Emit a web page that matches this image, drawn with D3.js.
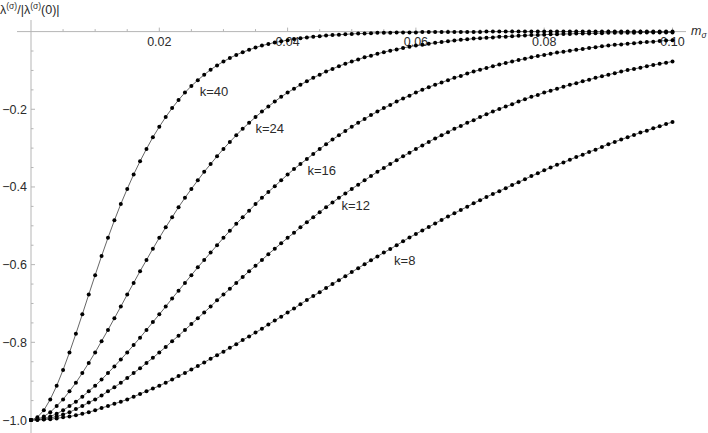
<!DOCTYPE html>
<html>
<head>
<meta charset="utf-8">
<script src="https://cdn.jsdelivr.net/npm/d3@7"></script>
<style>
	body { margin: 0; background: #fff; }
	text { font-family: "Liberation Sans", Arial, sans-serif; }
</style>
</head>
<body>
<div id="chart"></div>
<script>
// m values: 0 to 0.1 in steps of 0.001
var mValues = d3.range(101).map(i => i / 1000);

var curveLabels = ['k=40', 'k=24', 'k=16', 'k=12', 'k=8'];

var k40 = [-1.000,-0.993,-0.975,-0.947,-0.912,-0.871,-0.826,-0.778,-0.728,-0.677,
	-0.627,-0.578,-0.531,-0.486,-0.444,-0.405,-0.368,-0.334,-0.302,-0.272,
	-0.245,-0.220,-0.197,-0.176,-0.157,-0.140,-0.125,-0.111,-0.098,-0.087,
	-0.077,-0.068,-0.060,-0.053,-0.047,-0.041,-0.036,-0.032,-0.028,-0.025,
	-0.022,-0.019,-0.017,-0.015,-0.013,-0.012,-0.010,-0.009,-0.008,-0.007,
	-0.006,-0.005,-0.005,-0.004,-0.003,-0.003,-0.003,-0.002,-0.002,-0.002,
	-0.002,-0.001,-0.001,-0.001,-0.001,-0.001,-0.001,-0.001,-0.001,-0.001,
	-0.001,0,0,0,0,0,0,0,0,0,
	0,0,0,0,0,0,0,0,0,0,
	0,0,0,0,0,0,0,0,0,0,0];

var k24 = [-1.000,-0.998,-0.991,-0.980,-0.964,-0.947,-0.926,-0.904,-0.879,-0.853,
	-0.826,-0.797,-0.768,-0.738,-0.708,-0.677,-0.647,-0.617,-0.588,-0.559,
	-0.531,-0.504,-0.478,-0.452,-0.428,-0.405,-0.383,-0.361,-0.341,-0.321,
	-0.302,-0.284,-0.267,-0.250,-0.235,-0.220,-0.206,-0.193,-0.180,-0.168,
	-0.157,-0.147,-0.137,-0.128,-0.119,-0.111,-0.103,-0.096,-0.089,-0.083,
	-0.077,-0.072,-0.066,-0.062,-0.057,-0.053,-0.049,-0.046,-0.042,-0.039,
	-0.036,-0.034,-0.031,-0.029,-0.027,-0.025,-0.023,-0.021,-0.020,-0.018,
	-0.017,-0.016,-0.015,-0.013,-0.013,-0.012,-0.011,-0.010,-0.009,-0.009,
	-0.008,-0.007,-0.007,-0.006,-0.006,-0.005,-0.005,-0.005,-0.004,-0.004,
	-0.003,-0.003,-0.003,-0.003,-0.003,-0.002,-0.002,-0.002,-0.002,-0.002,-0.002];

var k16 = [-1.000,-0.999,-0.996,-0.991,-0.984,-0.975,-0.964,-0.953,-0.940,-0.926,
	-0.912,-0.896,-0.879,-0.862,-0.844,-0.826,-0.807,-0.788,-0.768,-0.748,
	-0.728,-0.708,-0.687,-0.667,-0.647,-0.627,-0.607,-0.588,-0.569,-0.550,
	-0.531,-0.513,-0.495,-0.478,-0.461,-0.444,-0.428,-0.413,-0.398,-0.383,
	-0.368,-0.354,-0.341,-0.328,-0.315,-0.302,-0.290,-0.278,-0.267,-0.256,
	-0.245,-0.235,-0.225,-0.215,-0.206,-0.197,-0.189,-0.180,-0.172,-0.165,
	-0.157,-0.150,-0.143,-0.137,-0.131,-0.125,-0.119,-0.114,-0.108,-0.103,
	-0.098,-0.094,-0.089,-0.085,-0.081,-0.077,-0.073,-0.070,-0.066,-0.063,
	-0.060,-0.057,-0.054,-0.052,-0.049,-0.047,-0.045,-0.042,-0.040,-0.038,
	-0.036,-0.034,-0.033,-0.031,-0.030,-0.028,-0.027,-0.026,-0.024,-0.023,-0.022];

var k12 = [-1.000,-0.999,-0.998,-0.995,-0.991,-0.986,-0.980,-0.972,-0.964,-0.955,
	-0.947,-0.937,-0.926,-0.916,-0.904,-0.892,-0.879,-0.867,-0.853,-0.840,
	-0.826,-0.812,-0.797,-0.783,-0.768,-0.753,-0.738,-0.723,-0.708,-0.692,
	-0.677,-0.662,-0.647,-0.632,-0.617,-0.603,-0.588,-0.573,-0.559,-0.545,
	-0.531,-0.518,-0.504,-0.491,-0.478,-0.465,-0.452,-0.440,-0.428,-0.417,
	-0.405,-0.394,-0.383,-0.372,-0.361,-0.351,-0.341,-0.331,-0.321,-0.312,
	-0.302,-0.293,-0.284,-0.275,-0.267,-0.259,-0.250,-0.243,-0.235,-0.228,
	-0.220,-0.213,-0.206,-0.199,-0.193,-0.187,-0.180,-0.174,-0.168,-0.163,
	-0.157,-0.152,-0.147,-0.142,-0.137,-0.133,-0.128,-0.124,-0.119,-0.115,
	-0.111,-0.107,-0.103,-0.099,-0.096,-0.093,-0.089,-0.086,-0.083,-0.080,-0.077];

var k8 = [-1.000,-1.000,-0.999,-0.998,-0.996,-0.993,-0.991,-0.988,-0.984,-0.980,
	-0.975,-0.969,-0.964,-0.958,-0.953,-0.947,-0.940,-0.933,-0.926,-0.919,
	-0.912,-0.904,-0.896,-0.887,-0.879,-0.870,-0.861,-0.852,-0.842,-0.833,
	-0.824,-0.814,-0.805,-0.794,-0.785,-0.775,-0.765,-0.754,-0.744,-0.734,
	-0.723,-0.713,-0.702,-0.691,-0.681,-0.671,-0.660,-0.650,-0.640,-0.630,
	-0.619,-0.609,-0.599,-0.589,-0.579,-0.569,-0.560,-0.550,-0.540,-0.530,
	-0.521,-0.512,-0.503,-0.494,-0.485,-0.476,-0.468,-0.459,-0.451,-0.442,
	-0.434,-0.426,-0.418,-0.411,-0.403,-0.395,-0.388,-0.380,-0.372,-0.365,
	-0.357,-0.350,-0.343,-0.337,-0.330,-0.323,-0.317,-0.310,-0.304,-0.297,
	-0.290,-0.284,-0.278,-0.272,-0.266,-0.260,-0.255,-0.249,-0.244,-0.238,-0.233];

var seriesValues = [k40, k24, k16, k12, k8];

// where each k label sits, in data coordinates
var labelPos = [[0.0263, -0.153], [0.0350, -0.250], [0.0431, -0.358], [0.0484, -0.447], [0.0566, -0.590]];

var xTicks = [0.02, 0.04, 0.06, 0.08, 0.10];
var xTickLabels = ['0.02', '0.04', '0.06', '0.08', '0.10'];
var yTicks = [-0.2, -0.4, -0.6, -0.8, -1.0];
var yTickLabels = ['\u22120.2', '\u22120.4', '\u22120.6', '\u22120.8', '\u22121.0'];

(function () {
	var width = 708;
	var height = 433;

	var x = d3.scaleLinear().domain([0, 0.1]).range([31, 672.5]);
	var y = d3.scaleLinear().domain([0, -1]).range([31.6, 420]);

	var svg = d3.select('#chart').append('svg')
		.attr('width', width).attr('height', height);

	var axisColor = '#b5b5b5';
	var textColor = '#2b2b2b';

	// x axis
	svg.append('line')
		.attr('x1', 17).attr('x2', 686)
		.attr('y1', y(0)).attr('y2', y(0))
		.attr('stroke', axisColor).attr('stroke-width', 1);

	var xMinor = d3.range(1, 21).map(i => i * 0.005);
	svg.selectAll('.xtick')
		.data(xMinor)
		.enter().append('line')
		.attr('x1', d => x(d)).attr('x2', d => x(d))
		.attr('y1', y(0))
		.attr('y2', (d, i) => (i + 1) % 4 === 0 ? y(0) - 4 : y(0) - 2.5)
		.attr('stroke', axisColor).attr('stroke-width', 1);

	svg.selectAll('.xlabel')
		.data(xTicks)
		.enter().append('text')
		.attr('x', d => x(d)).attr('y', y(0) + 14)
		.attr('text-anchor', 'middle')
		.attr('font-size', 12.5)
		.attr('fill', textColor)
		.text((d, i) => xTickLabels[i]);

	// y axis
	svg.append('line')
		.attr('x1', x(0)).attr('x2', x(0))
		.attr('y1', 20).attr('y2', height)
		.attr('stroke', axisColor).attr('stroke-width', 1);

	var yMinor = d3.range(1, 22).map(i => -i * 0.05);
	svg.selectAll('.ytick')
		.data(yMinor)
		.enter().append('line')
		.attr('y1', d => y(d)).attr('y2', d => y(d))
		.attr('x1', x(0))
		.attr('x2', (d, i) => (i + 1) % 4 === 0 ? x(0) + 4 : x(0) + 2.5)
		.attr('stroke', axisColor).attr('stroke-width', 1);

	svg.selectAll('.ylabel')
		.data(yTicks)
		.enter().append('text')
		.attr('x', 27).attr('y', d => y(d))
		.attr('dy', '0.36em')
		.attr('text-anchor', 'end')
		.attr('font-size', 12.5)
		.attr('fill', textColor)
		.text((d, i) => yTickLabels[i]);

	// axis titles
	var yTitle = svg.append('text')
		.attr('x', 0).attr('y', 14)
		.attr('font-size', 12.5)
		.attr('fill', textColor);
	yTitle.append('tspan').text('\u03bb');
	yTitle.append('tspan').attr('font-size', 8.5).attr('dy', -5).text('(\u03c3)');
	yTitle.append('tspan').attr('dy', 5).text('/|\u03bb');
	yTitle.append('tspan').attr('font-size', 8.5).attr('dy', -5).text('(\u03c3)');
	yTitle.append('tspan').attr('dy', 5).text('(0)|');

	var xTitle = svg.append('text')
		.attr('x', 691).attr('y', y(0) + 3)
		.attr('font-size', 12.5)
		.attr('fill', textColor);
	xTitle.append('tspan').attr('font-style', 'italic').text('m');
	xTitle.append('tspan').attr('font-size', 8.5).attr('font-style', 'italic').attr('dy', 3).text('\u03c3');

	// curves
	var line = d3.line()
		.x((d, i) => x(mValues[i]))
		.y(d => y(d));

	svg.selectAll('.curve')
		.data(seriesValues)
		.enter().append('path')
		.attr('d', d => line(d))
		.attr('fill', 'none')
		.attr('stroke', '#555')
		.attr('stroke-width', 0.9);

	seriesValues.forEach(vals => {
		svg.append('g').selectAll('circle')
			.data(vals)
			.enter().append('circle')
			.attr('cx', (d, i) => x(mValues[i]))
			.attr('cy', d => y(d))
			.attr('r', 2)
			.attr('fill', '#000');
	});

	svg.selectAll('.klabel')
		.data(curveLabels)
		.enter().append('text')
		.attr('x', (d, i) => x(labelPos[i][0]))
		.attr('y', (d, i) => y(labelPos[i][1]))
		.attr('dy', '0.36em')
		.attr('font-size', 13)
		.attr('fill', textColor)
		.text(d => d);
})();
</script>
</body>
</html>
